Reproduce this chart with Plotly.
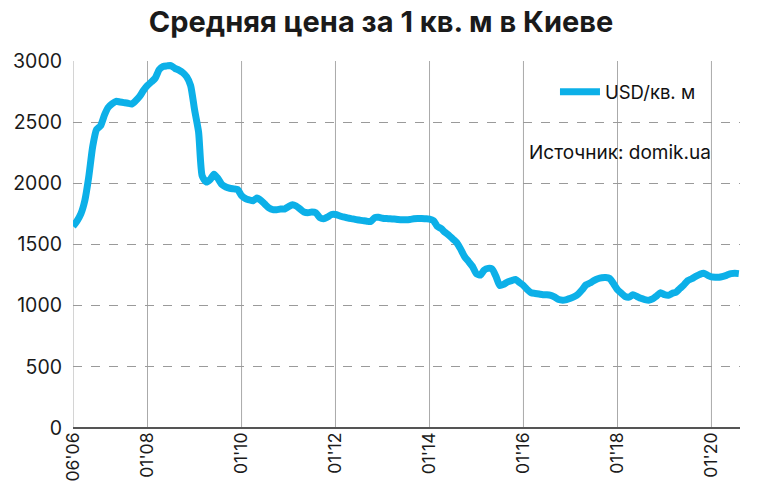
import plotly.graph_objects as go
import pandas as pd

# Monthly average price, USD per sq. m, Kyiv
start_month = "2006-06-01"
usd_per_sqm = [
    1650, 1690, 1750, 1860, 2050, 2300, 2440, 2470, 2560, 2620, 2650, 2670,
    2665, 2660, 2655, 2648, 2675, 2710, 2760, 2800, 2830, 2860, 2930, 2955,
    2960, 2962, 2940, 2925, 2905, 2870, 2800, 2600, 2420, 2060, 2010, 2030,
    2075, 2040, 1990, 1970, 1960, 1955, 1950, 1900, 1875, 1865, 1858, 1880,
    1860, 1830, 1800, 1785, 1785, 1790, 1790, 1810, 1825, 1815, 1790, 1765,
    1760, 1765, 1760, 1720, 1710, 1725, 1745, 1745, 1735, 1725, 1718, 1712,
    1705, 1700, 1695, 1690, 1688, 1720, 1722, 1715, 1712, 1710, 1708, 1705,
    1703, 1703, 1705, 1710, 1712, 1712, 1710, 1708, 1695, 1650, 1630, 1600,
    1575, 1545, 1515, 1460, 1400, 1360, 1320, 1260, 1250, 1290, 1305, 1300,
    1240, 1165, 1175, 1195, 1205, 1215, 1190, 1165, 1130, 1105, 1100, 1095,
    1090, 1090, 1085, 1070, 1050, 1045, 1050, 1060, 1075, 1095, 1130, 1170,
    1185, 1205, 1220, 1228, 1230, 1222, 1180, 1130, 1100, 1075, 1070, 1090,
    1075, 1060, 1050, 1045, 1055, 1080, 1105, 1090, 1085, 1100, 1110, 1140,
    1170, 1205, 1220, 1240, 1255, 1265, 1250, 1235, 1232, 1232, 1240, 1250,
    1262, 1265, 1262,
]
dates = pd.date_range(start_month, periods=len(usd_per_sqm), freq="MS")

tick_dates = ["2006-06-01", "2008-01-01", "2010-01-01", "2012-01-01",
              "2014-01-01", "2016-01-01", "2018-01-01", "2020-01-01"]
tick_labels = ["06'06", "01'08", "01'10", "01'12", "01'14", "01'16", "01'18", "01'20"]
y_ticks = [0, 500, 1000, 1500, 2000, 2500, 3000]

title_text = "Средняя цена за 1 кв. м в Киеве"
series_name = "USD/кв. м"
source_text = "Источник: domik.ua"

FONT = "Inter"
LINE_COLOR = "#0CB0E8"

fig = go.Figure()

# vertical solid gridlines at tick dates
for d in tick_dates:
    fig.add_shape(type="line", xref="x", yref="paper", x0=d, x1=d, y0=0, y1=1,
                  line=dict(color="#AAAAAA", width=1), layer="below")

fig.add_trace(go.Scatter(
    x=dates, y=usd_per_sqm, mode="lines", name=series_name,
    line=dict(color=LINE_COLOR, width=7, shape="spline", smoothing=0.6),
))

fig.add_annotation(text=source_text, xref="paper", yref="paper",
                   x=0.681, y=0.752, xanchor="left", yanchor="middle",
                   showarrow=False, font=dict(family=FONT, size=19, color="#111111"))

fig.update_layout(
    width=764, height=489,
    margin=dict(l=73, r=24, t=61, b=61, autoexpand=False),
    paper_bgcolor="white", plot_bgcolor="white",
    title=dict(text="<b>" + title_text + "</b>", x=0.4987, xanchor="center",
               y=0.955, yanchor="middle",
               font=dict(family=FONT, size=29, color="#1A1A1A")),
    showlegend=True,
    legend=dict(x=0.7226, y=0.915, xanchor="left", yanchor="middle",
                bgcolor="rgba(0,0,0,0)", font=dict(family=FONT, size=18.5, color="#111111"),
                itemwidth=40),
    font=dict(family=FONT, color="#1A1A1A"),
)

fig.update_xaxes(
    type="date", range=["2006-06-01", "2020-08-10"],
    tickmode="array", tickvals=tick_dates, ticktext=tick_labels,
    tickangle=-90, tickfont=dict(family=FONT, size=17.5, color="#1A1A1A"),
    showgrid=False, zeroline=False, showline=False, ticks="", automargin=False,
)
fig.update_yaxes(
    range=[0, 3000], tickmode="array", tickvals=y_ticks,
    tickfont=dict(family=FONT, size=19.5, color="#1A1A1A"),
    showgrid=True, gridcolor="#9A9A9A", griddash="dash", gridwidth=1,
    zeroline=True, zerolinecolor="#555555", zerolinewidth=2,
    showline=False, ticks="", ticklabelstandoff=10, automargin=False,
)

fig.write_html("out.html", config={"displayModeBar": False},
               post_script="document.body.style.margin='0';")
